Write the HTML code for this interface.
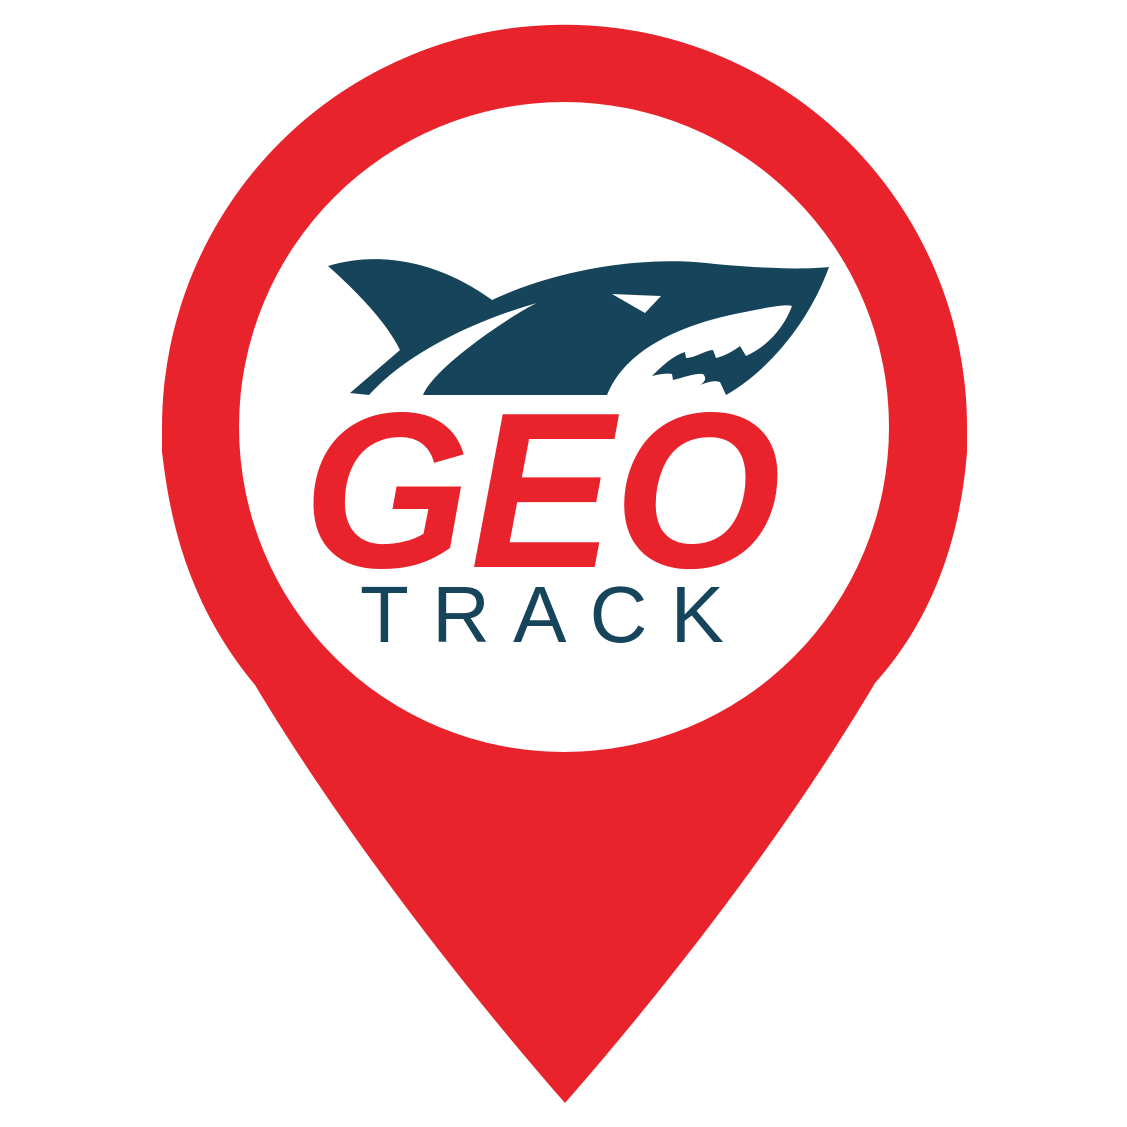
<!DOCTYPE html>
<html><head><meta charset="utf-8"><style>html,body{margin:0;padding:0;background:#fff}svg{display:block}</style></head>
<body>
<svg width="1127" height="1127" viewBox="0 0 1127 1127" xmlns="http://www.w3.org/2000/svg">
<path fill="#e9232b" d="M162,427 A402,402 0 0 1 967,427 L967,452 C963,500 950,600 875,683 C800,810 690,960 565,1103 C440,960 330,810 255,685 C180,595 168,500 162,452 Z"/>
<circle cx="564" cy="427" r="325" fill="#fff"/>
<path fill="#16445a" d="M328,266 C380,250 440,262 492,300 C560,268 650,255 715,264 C760,268 800,270 829,267 C810,320 770,370 726,395 L720,382 C714,380 708,382 700,385 C705,382 707,378 703,374 C695,373 685,377 673,380 L672,374 C668,373 660,374 652,376 C660,368 672,356 685,352 L686,358 C695,358 706,350 713,350 L716,358 C725,356 735,350 740,346 L746,356 C770,345 785,325 792,306 C785,304 770,307 745,312 C680,324 625,350 607,395 L423,395 L369,395 L350,393 L400,350 C385,320 355,290 328,266 Z"/>
<path fill="#fff" d="M537,303 C470,322 405,355 369,395 L423,395 C435,365 520,310 537,303 Z"/>
<path fill="#fff" d="M612,294 L661,296 L645,313 Z"/>
<text x="303" y="567" font-family="Liberation Sans, sans-serif" font-weight="bold" font-style="italic" font-size="222" fill="#e9232b" textLength="478" lengthAdjust="spacingAndGlyphs">GEO</text>
<text x="360" y="642" font-family="Liberation Sans, sans-serif" font-size="80" fill="#16445a" textLength="364" lengthAdjust="spacing">TRACK</text>
</svg>
</body></html>
